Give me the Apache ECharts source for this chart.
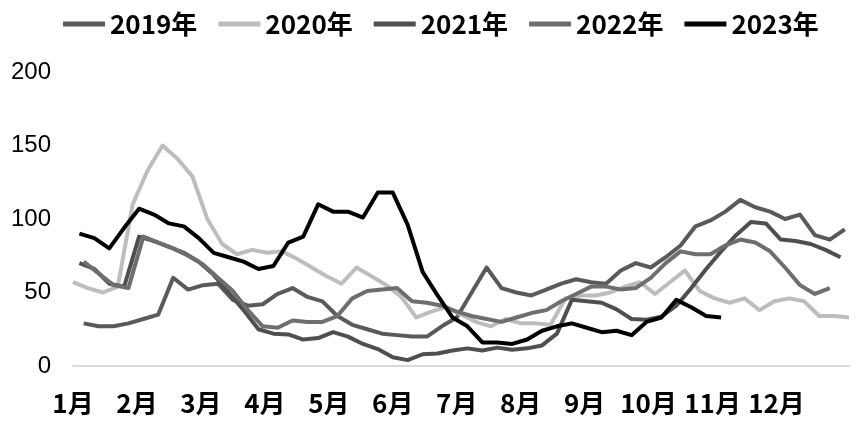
<!DOCTYPE html>
<html>
<head>
<meta charset="utf-8">
<script src="https://cdn.jsdelivr.net/npm/echarts@6/dist/echarts.min.js"></script>
<style>
html,body{margin:0;padding:0;background:#fff;}
#chart{width:859px;height:426px;}
</style>
</head>
<body>
<div id="chart"></div>
<script>
// Series names (legend)
const years = ['2019年', '2020年', '2021年', '2022年', '2023年'];
// Day-of-year of the first weekly observation of each year
const startDay = [5, 0, 3, 5, 3];
// Weekly values
const v2019 = [29,27,27,29,32,35,60,52,55,56,45,41,42,49,53,47,44,34,28,25,22,21,20,20,27,33,50,67,53,50,48,52,56,59,57,56,65,70,67,74,82,95,99,105,113,108,105,100,103,89,86,93];
const v2020 = [57,53,50,54,110,133,150,141,129,100,83,76,79,77,78,73,67,61,56,67,61,55,47,33,37,40,35,30,27,32,29,29,28,46,48,48,50,54,57,49,57,65,51,46,43,46,38,44,46,44,34,34,33];
const v2021 = [70,66,56,54,88,85,81,77,71,62,50,38,25,22,21.5,18,19,23,20,15,11.5,6,4,8,8.5,10.5,12,10.5,12.5,11,12,14,22,45,44,43,38.5,32,31.5,33.6,41,53,66,78,89,98,97,86,85,83,79,74];
const v2022 = [71,63,55,53,88,84,80,75,69,60,51,38,27,26,31,30,30,34,46,51,52,53,44,43,41,37,34,32,30,33,36,38,44,49,54,54,52,53,60,70,78,76,76,82,86,84,78,67,55,49,53];
const v2023 = [90,87,80,94,107,103,97,95,87,77,74,71,66,68,84,88,110,105,105,101,118,118,96,64,48,33,27,16,16,15,18,24,27,29,26,23,24,21,30,33,45,40,34,33];
// Axis tick labels
const monthLabels = ['1月','2月','3月','4月','5月','6月','7月','8月','9月','10月','11月','12月'];
const yTicks = [0, 50, 100, 150, 200];

const values = [v2019, v2020, v2021, v2022, v2023];
const colors = ['#5a5a5a', '#bdbdbd', '#4f4f4f', '#6e6e6e', '#000000'];
const DAYS_PER_LABEL = 30;

const chart = echarts.init(document.getElementById('chart'), null, {renderer: 'canvas'});
const narrow = "'Liberation Sans Narrow', 'Noto Sans CJK SC', sans-serif";

const option = {
  backgroundColor: '#ffffff',
  animation: false,
  legend: {
    top: 6,
    left: 58,
    icon: 'rect',
    itemWidth: 42,
    itemHeight: 5,
    itemGap: 21,
    data: years,
    textStyle: {fontFamily: narrow, fontWeight: 'bold', fontSize: 26, color: '#000'}
  },
  grid: {left: 73, right: 10, top: 72, bottom: 60, containLabel: false},
  xAxis: {
    type: 'value',
    min: 0,
    max: 364,
    interval: DAYS_PER_LABEL,
    axisLine: {show: true, lineStyle: {color: '#d9d9d9', width: 2}},
    axisTick: {show: false},
    splitLine: {show: false},
    axisLabel: {
      margin: 24,
      fontFamily: narrow,
      fontWeight: 'bold',
      fontSize: 26,
      color: '#000',
      showMaxLabel: true,
      formatter: function (v) {
        const idx = Math.round(v / DAYS_PER_LABEL);
        if (Math.abs(v - idx * DAYS_PER_LABEL) > 0.01 || idx >= monthLabels.length) return '';
        return monthLabels[idx];
      }
    }
  },
  yAxis: {
    type: 'value',
    min: yTicks[0],
    max: yTicks[yTicks.length - 1],
    interval: yTicks[1] - yTicks[0],
    axisLine: {show: false},
    axisTick: {show: false},
    splitLine: {show: false},
    axisLabel: {
      margin: 22,
      fontFamily: "'Liberation Sans', Arial, sans-serif",
      fontSize: 24,
      color: '#000'
    }
  },
  series: years.map(function (name, k) {
    return {
      name: name,
      type: 'line',
      showSymbol: false,
      symbol: 'none',
      smooth: false,
      color: colors[k],
      lineStyle: {width: 4, color: colors[k], join: 'round'},
      data: values[k].map(function (v, i) { return [startDay[k] + 7 * i, v]; })
    };
  })
};
chart.setOption(option);
</script>
</body>
</html>
